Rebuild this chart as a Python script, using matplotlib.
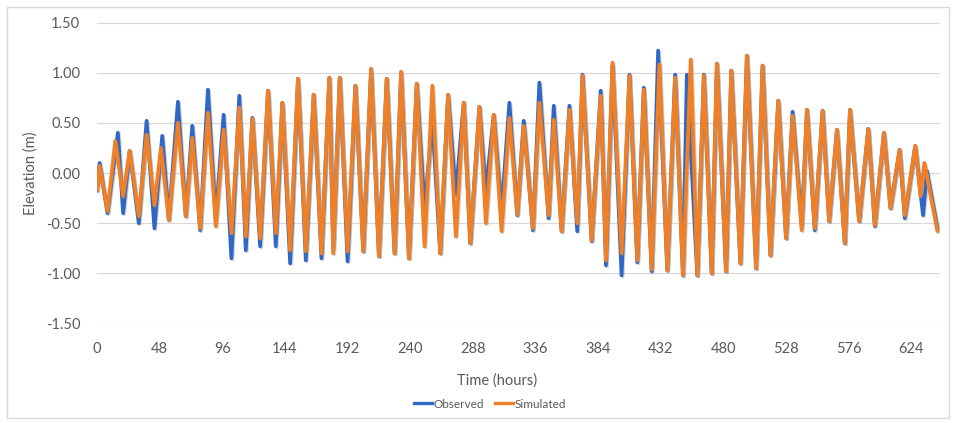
import matplotlib
matplotlib.use("Agg")
import matplotlib.pyplot as plt
from matplotlib import patheffects as pe
from matplotlib.patches import Rectangle
from matplotlib.lines import Line2D

# Tide extremes (high / low water) per half cycle, time in hours, elevation in m
obs_hours = [0, 2, 8, 16, 20, 25, 32, 38, 44, 50, 55, 62, 68, 73, 79, 85, 91, 97,
             103, 109, 114, 119, 125, 131, 137, 142, 148, 154, 160, 166, 172, 178,
             181, 186, 192, 198, 204, 210, 216, 222, 228, 233, 239, 245, 251, 257,
             263, 269, 275, 281, 286, 293, 298, 304, 310, 316, 322, 327, 334, 339,
             346, 350, 356, 362, 368, 372, 379, 386, 390, 395, 402, 408, 414, 419,
             425, 430, 437, 443, 449, 452, 460, 465, 471, 475, 482, 486, 493, 498,
             505, 510, 516, 522, 528, 533, 540, 544, 550, 556, 561, 567, 573, 577,
             584, 591, 596, 603, 608, 615, 619, 627, 633, 636, 644]
obs_elev = [-0.17, 0.10, -0.40, 0.40, -0.40, 0.22, -0.50, 0.52, -0.55, 0.37, -0.46,
            0.71, -0.43, 0.47, -0.57, 0.83, -0.45, 0.58, -0.85, 0.77, -0.77, 0.55,
            -0.73, 0.82, -0.73, 0.70, -0.90, 0.94, -0.87, 0.78, -0.85, 0.95, -0.75,
            0.95, -0.88, 0.87, -0.78, 1.03, -0.83, 0.94, -0.80, 1.00, -0.85, 0.89,
            -0.35, 0.52, -0.80, 0.78, -0.21, 0.70, -0.70, 0.66, -0.18, 0.58, -0.38,
            0.70, -0.42, 0.52, -0.57, 0.90, -0.45, 0.67, -0.58, 0.67, -0.58, 0.98,
            -0.68, 0.82, -0.92, 1.07, -1.02, 0.98, -0.89, 0.85, -0.98, 1.22, -0.97,
            0.98, -1.02, 0.98, -1.02, 0.98, -1.00, 1.09, -0.98, 1.02, -0.90, 1.17,
            -0.95, 1.07, -0.82, 0.72, -0.65, 0.61, -0.52, 0.63, -0.57, 0.62, -0.48,
            0.43, -0.70, 0.63, -0.48, 0.44, -0.53, 0.40, -0.35, 0.23, -0.45, 0.27,
            -0.42, 0.02, -0.55]

sim_hours = [0, 2, 8, 14, 20, 25, 32, 38, 44, 49, 55, 62, 68, 73, 79, 85, 91, 97,
             103, 109, 114, 119, 125, 131, 137, 142, 148, 154, 160, 166, 172, 178,
             181, 186, 192, 198, 204, 210, 216, 222, 228, 233, 239, 245, 251, 257,
             263, 269, 275, 281, 286, 293, 298, 304, 310, 316, 322, 327, 334, 339,
             346, 350, 356, 362, 368, 372, 379, 386, 390, 395, 402, 408, 414, 419,
             425, 431, 437, 443, 449, 455, 460, 465, 471, 475, 482, 486, 493, 498,
             505, 510, 516, 522, 528, 533, 540, 544, 550, 556, 561, 567, 573, 577,
             584, 591, 596, 603, 608, 615, 619, 627, 631, 634, 644]
sim_elev = [-0.17, 0.07, -0.38, 0.32, -0.23, 0.22, -0.43, 0.38, -0.32, 0.25, -0.47,
            0.50, -0.43, 0.35, -0.55, 0.60, -0.53, 0.43, -0.60, 0.65, -0.63, 0.54,
            -0.65, 0.82, -0.60, 0.70, -0.77, 0.94, -0.78, 0.78, -0.80, 0.95, -0.80,
            0.95, -0.78, 0.87, -0.78, 1.04, -0.83, 0.94, -0.80, 1.01, -0.85, 0.89,
            -0.73, 0.87, -0.80, 0.78, -0.63, 0.70, -0.70, 0.66, -0.50, 0.58, -0.58,
            0.55, -0.41, 0.47, -0.55, 0.70, -0.42, 0.53, -0.58, 0.63, -0.50, 0.97,
            -0.67, 0.77, -0.87, 1.10, -0.80, 0.97, -0.87, 0.83, -0.96, 1.08, -0.97,
            0.95, -1.02, 1.13, -1.02, 0.97, -1.00, 1.09, -0.98, 1.02, -0.90, 1.17,
            -0.95, 1.07, -0.82, 0.72, -0.65, 0.57, -0.57, 0.63, -0.55, 0.62, -0.48,
            0.43, -0.70, 0.63, -0.48, 0.44, -0.52, 0.40, -0.35, 0.23, -0.42, 0.27,
            -0.23, 0.10, -0.58]

hour_ticks = [0, 48, 96, 144, 192, 240, 288, 336, 384, 432, 480, 528, 576, 624]
elev_ticks = [-1.5, -1.0, -0.5, 0.0, 0.5, 1.0, 1.5]

plt.rcParams['font.family'] = ['Lato', 'DejaVu Sans']
grey = '#595959'
blue = '#2F67C6'
orange = '#F07F26'

fig = plt.figure(figsize=(9.56, 4.23), dpi=100)
W, H = 956, 423
ax = fig.add_axes([97 / W, 1 - 323.5 / H, (940 - 97) / W, (323.5 - 22.5) / H])

shadow = [pe.SimpleLineShadow(offset=(0.8, -0.8), shadow_color='#808080', alpha=0.35),
          pe.Normal()]
ax.plot(obs_hours, obs_elev, color=blue, lw=2.7, solid_joinstyle='round',
        solid_capstyle='round', path_effects=shadow, zorder=3)
ax.plot(sim_hours, sim_elev, color=orange, lw=2.7, solid_joinstyle='round',
        solid_capstyle='round', path_effects=shadow, zorder=4)

ax.set_xlim(0, 646)
ax.set_ylim(-1.5, 1.5)
ax.set_xticks(hour_ticks)
ax.set_xticklabels([str(h) for h in hour_ticks])
ax.set_yticks(elev_ticks)
ax.set_yticklabels(['%.2f' % v for v in elev_ticks])
ax.tick_params(axis='both', length=0, labelsize=10.5, colors=grey)
ax.tick_params(axis='x', pad=13)
ax.tick_params(axis='y', pad=12)
ax.yaxis.grid(True, color='#d9d9d9', lw=0.9)
ax.set_axisbelow(True)
for s in ax.spines.values():
    s.set_visible(False)

fig.text(31 / W, 1 - 173 / H, 'Elevation (m)', rotation=90, ha='center', va='center',
         fontsize=10.5, color=grey)
fig.text(497 / W, 1 - 381 / H, 'Time (hours)', ha='center', va='center',
         fontsize=10.5, color=grey)

handles = [Line2D([], [], color=blue, lw=2.4), Line2D([], [], color=orange, lw=2.4)]
fig.legend(handles, ['Observed', 'Simulated'], loc='center',
           bbox_to_anchor=(490 / W, 1 - 404 / H), ncol=2, frameon=False,
           handlelength=1.5, handletextpad=0.1, columnspacing=1.0,
           fontsize=8.5, labelcolor=grey)

# light chart border
fig.patches.append(Rectangle((7 / W, 1 - 418 / H), (949 - 7) / W, (418 - 7) / H,
                             transform=fig.transFigure, fill=False,
                             edgecolor='#d9d9d9', lw=1))

fig.savefig('out.png', dpi=100)
